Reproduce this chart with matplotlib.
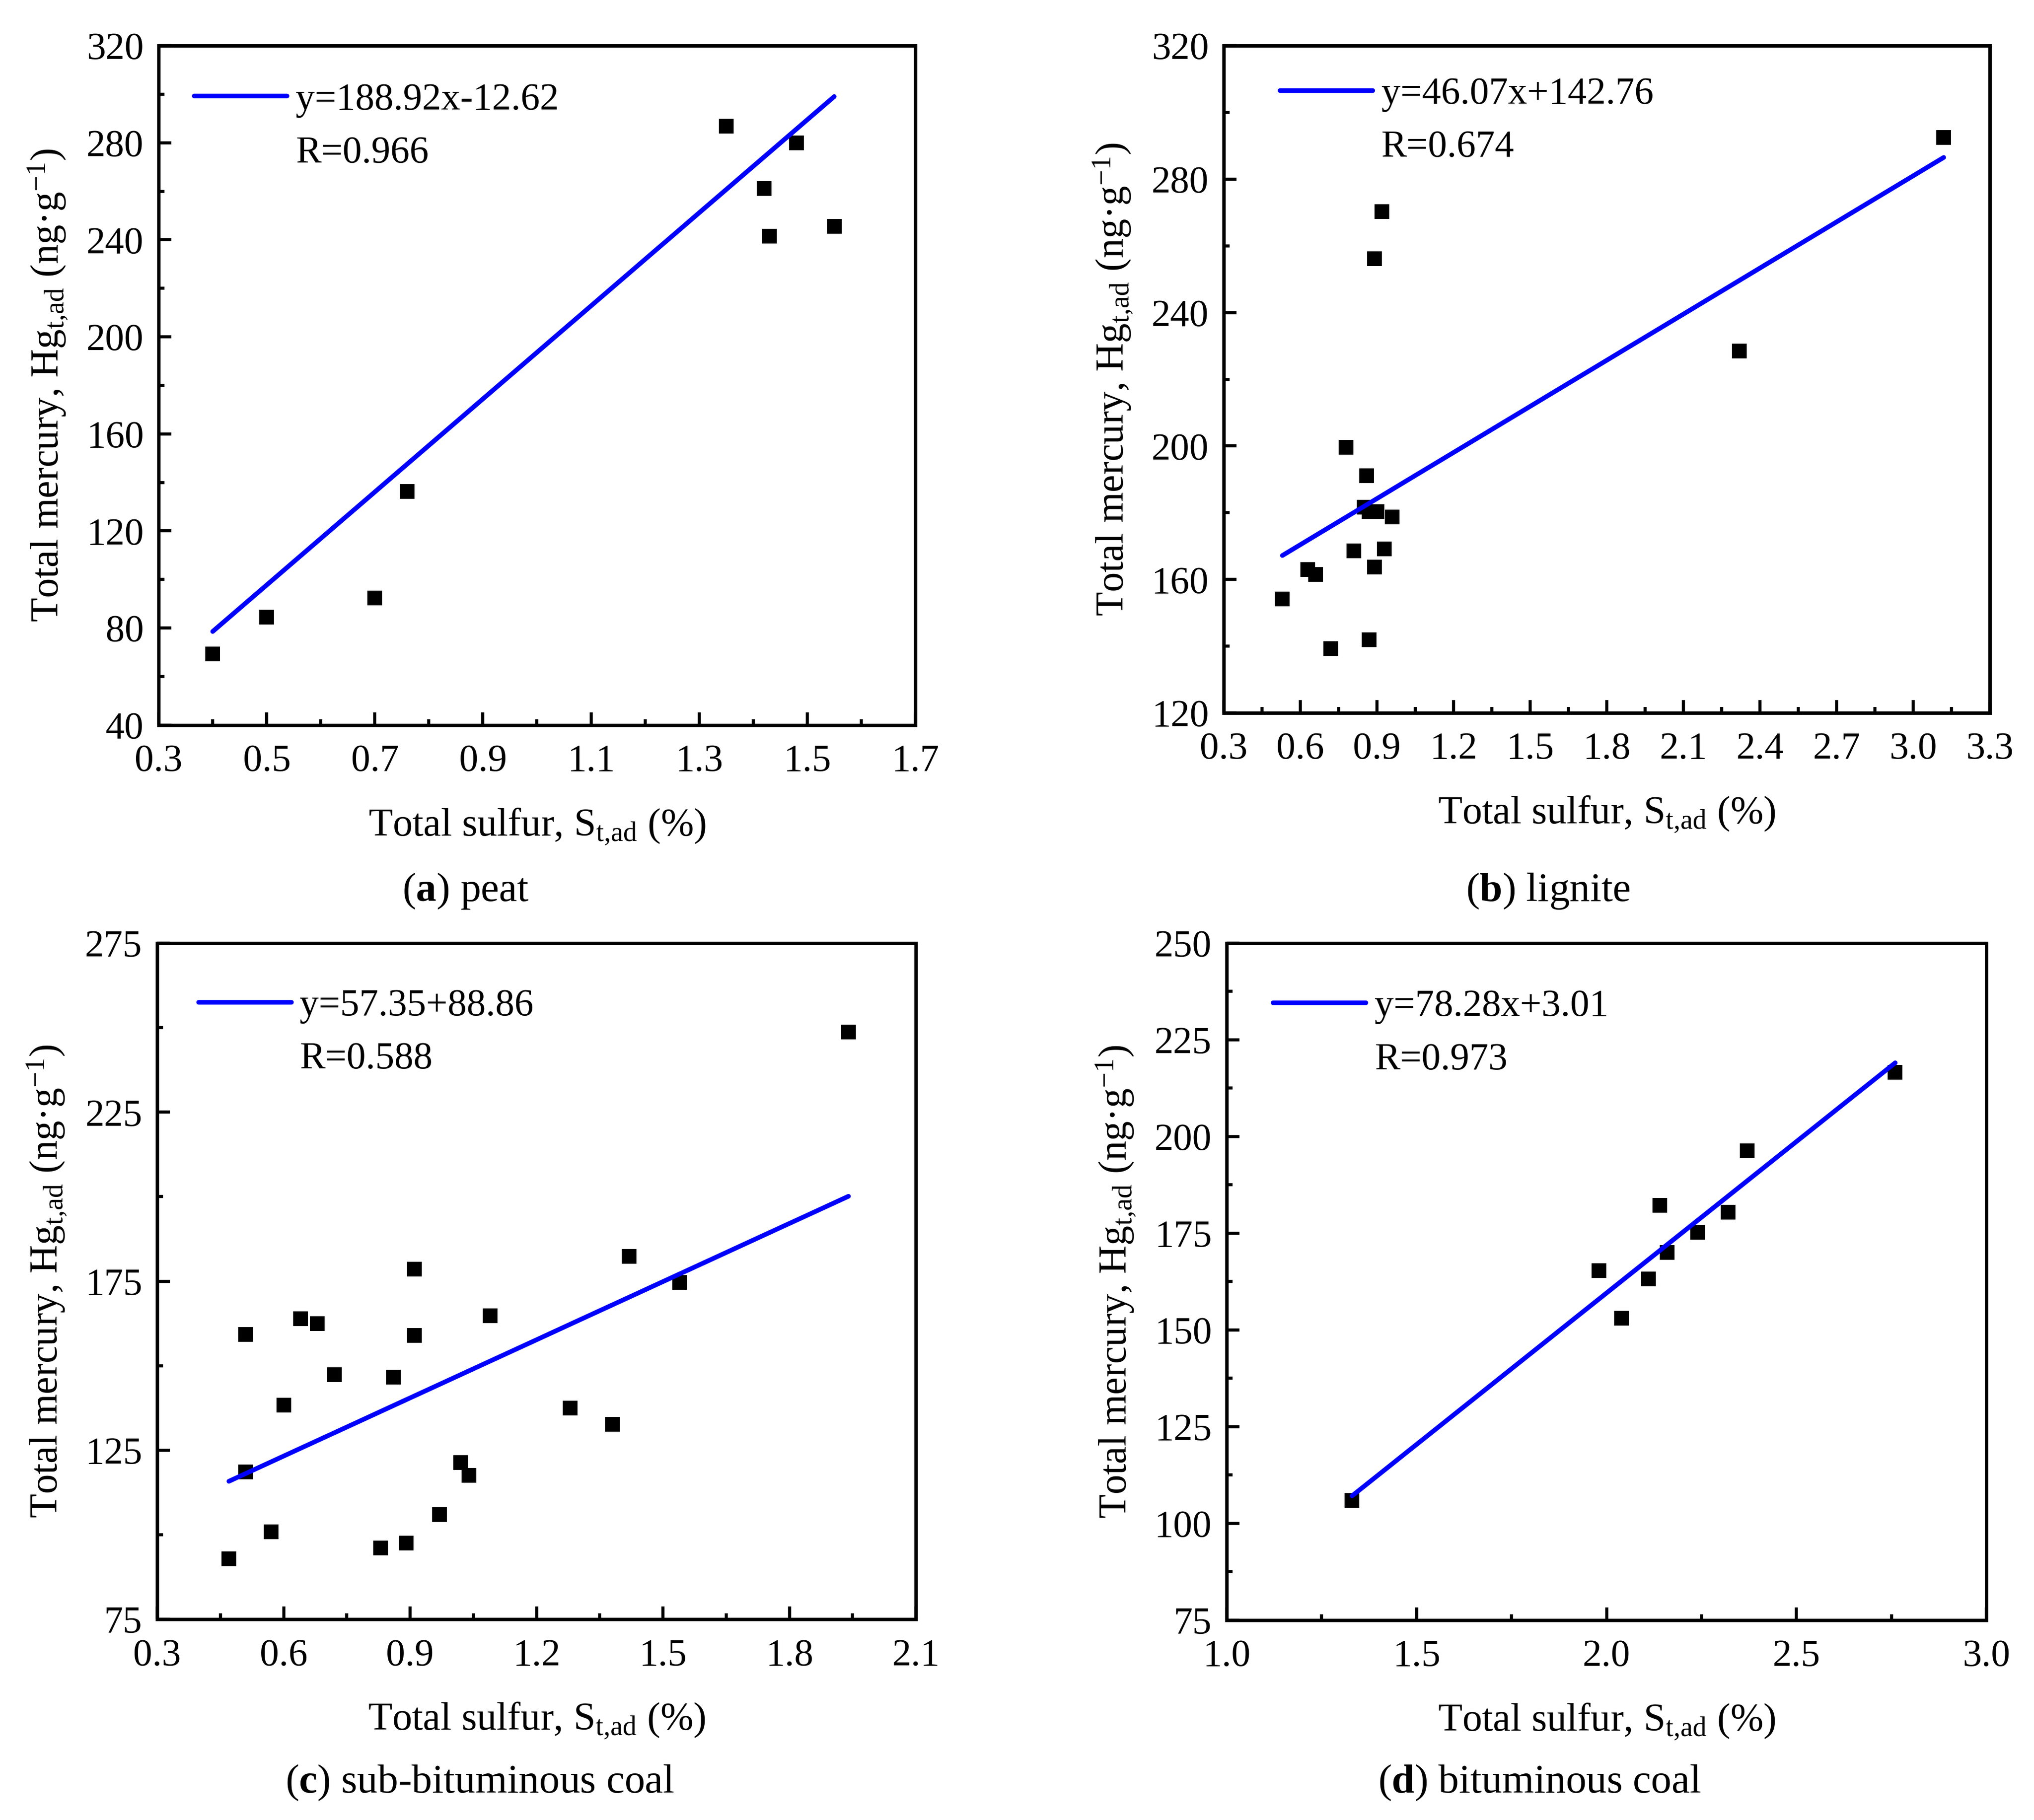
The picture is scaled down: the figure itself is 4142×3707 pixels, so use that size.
import matplotlib
matplotlib.use("Agg")
import matplotlib.pyplot as plt
from matplotlib.ticker import MultipleLocator, AutoMinorLocator, FormatStrFormatter
import numpy as np

plt.rcParams["font.family"] = ["Liberation Serif", "DejaVu Serif"]
plt.rcParams["mathtext.fontset"] = "custom"
plt.rcParams["mathtext.rm"] = "Liberation Serif"
plt.rcParams["mathtext.it"] = "Liberation Serif:italic"
plt.rcParams["mathtext.bf"] = "Liberation Serif:bold"

# data
peat_s = [0.40, 0.50, 0.70, 0.76, 1.35, 1.42, 1.43, 1.48, 1.55]
peat_hg = [69.3, 84.4, 92.3, 136.2, 286.9, 261.2, 241.5, 280.0, 245.6]

lig_s = [0.53, 0.63, 0.66, 0.72, 0.78, 0.81, 0.85, 0.86, 0.87, 0.87,
         0.89, 0.89, 0.90, 0.92, 0.93, 0.96, 2.32, 3.12]
lig_hg = [154.1, 163.0, 161.5, 139.3, 199.6, 168.5, 181.7, 191.1, 180.3, 142.0,
          256.2, 163.7, 180.4, 270.2, 169.1, 178.7, 228.5, 292.5]

sub_s = [0.47, 0.51, 0.51, 0.57, 0.60, 0.64, 0.68, 0.72, 0.83, 0.86, 0.89,
         0.91, 0.91, 0.97, 1.02, 1.04, 1.09, 1.28, 1.38, 1.42, 1.54, 1.94]
sub_hg = [92.9, 159.3, 118.6, 100.8, 138.3, 163.9, 162.4, 147.4, 96.1, 146.6, 97.5,
          178.5, 159.0, 105.9, 121.4, 117.6, 164.8, 137.5, 132.7, 182.3, 174.6, 248.7]

bit_s = [1.33, 1.98, 2.04, 2.11, 2.14, 2.16, 2.24, 2.32, 2.37, 2.76]
bit_hg = [106.0, 165.4, 153.0, 163.2, 182.2, 170.0, 175.3, 180.5, 196.3, 216.6]

# fitted lines as drawn (slope, intercept, x range)
fit_slope = [191.7, 46.07, 57.35, 78.28]
fit_icpt = [1.9, 142.76, 88.86, 3.01]
fit_xmin = [0.40, 0.53, 0.47, 1.33]
fit_xmax = [1.55, 3.12, 1.94, 2.76]

eq_labels = ["y=188.92x-12.62", "y=46.07x+142.76", "y=57.35+88.86", "y=78.28x+3.01"]
r_labels = ["R=0.966", "R=0.674", "R=0.588", "R=0.973"]
captions = [r"($\mathbf{a}$) peat", r"($\mathbf{b}$) lignite",
            r"($\mathbf{c}$) sub-bituminous coal", r"($\mathbf{d}$) bituminous coal"]

xlims = [(0.3, 1.7), (0.3, 3.3), (0.3, 2.1), (1.0, 3.0)]
xsteps = [0.2, 0.3, 0.3, 0.5]
xoffs = [0.1, 0.0, 0.0, 0.0]
ylims = [(40, 320), (120, 320), (75, 275), (75, 250)]
ysteps = [40, 40, 50, 25]
yoffs = [0, 0, 25, 0]

W, H, DPI = 4142, 3707, 200
fig = plt.figure(figsize=(W / DPI, H / DPI), dpi=DPI)

rects = [
    [0.0780, 0.6016, 0.3720, 0.3733],
    [0.6016, 0.6083, 0.3766, 0.3666],
    [0.0773, 0.1103, 0.3730, 0.3715],
    [0.6031, 0.1098, 0.3735, 0.3720],
]
leg_pos = [(0.047, 0.920), (0.073, 0.927), (0.054, 0.907), (0.061, 0.906)]
cap_pos = [(0.229, 0.505), (0.761, 0.505), (0.236, 0.015), (0.757, 0.015)]

xs_all = [peat_s, lig_s, sub_s, bit_s]
ys_all = [peat_hg, lig_hg, sub_hg, bit_hg]

fs = 28
hl, htp = 2.43, 0.23

for i in range(4):
    ax = fig.add_axes(rects[i])
    ax.plot(xs_all[i], ys_all[i], "s", color="black", markersize=10.8,
            markeredgewidth=0, zorder=2)
    fx = np.array([fit_xmin[i], fit_xmax[i]])
    ax.plot(fx, fit_slope[i] * fx + fit_icpt[i], color="#0000ff", lw=3.4,
            solid_capstyle="round", zorder=3, label=eq_labels[i])

    ax.set_xlim(*xlims[i])
    ax.set_ylim(*ylims[i])
    ax.xaxis.set_major_locator(MultipleLocator(xsteps[i], offset=xoffs[i]))
    ax.yaxis.set_major_locator(MultipleLocator(ysteps[i], offset=yoffs[i]))
    ax.xaxis.set_minor_locator(AutoMinorLocator(2))
    ax.yaxis.set_minor_locator(AutoMinorLocator(2))
    ax.xaxis.set_major_formatter(FormatStrFormatter("%.1f"))
    ax.yaxis.set_major_formatter(FormatStrFormatter("%d"))
    ax.tick_params(which="both", direction="in", top=False, right=False,
                   width=2.3, labelsize=fs)
    ax.tick_params(which="major", length=9.2)
    ax.tick_params(which="minor", length=4.4)
    ax.tick_params(axis="x", pad=14)
    ax.tick_params(axis="y", pad=11)
    for sp in ax.spines.values():
        sp.set_linewidth(2.5)

    ax.set_xlabel(r"Total sulfur, S$_{\mathrm{t{,}ad}}$ (%)", fontsize=29, labelpad=20)
    ax.set_ylabel(r"Total mercury, Hg$_{\mathrm{t{,}ad}}$ (ng·g$^{-1}$)", fontsize=29,
                  labelpad=12)

    lx, ly = leg_pos[i]
    ax.legend(loc="center left", bbox_to_anchor=(lx, ly), frameon=False,
              fontsize=fs, handlelength=hl, handletextpad=htp,
              borderpad=0, borderaxespad=0)
    ax_w_px = rects[i][2] * W
    ax_h_px = rects[i][3] * H
    fs_px = fs * DPI / 72
    tx = lx + (hl + htp) * fs_px / ax_w_px
    ax.text(tx, ly - 127 / ax_h_px, r_labels[i], transform=ax.transAxes,
            fontsize=fs, va="baseline", ha="left")

    fig.text(cap_pos[i][0], cap_pos[i][1], captions[i], fontsize=30,
             ha="center", va="baseline")

fig.savefig("out.png", dpi=DPI)
